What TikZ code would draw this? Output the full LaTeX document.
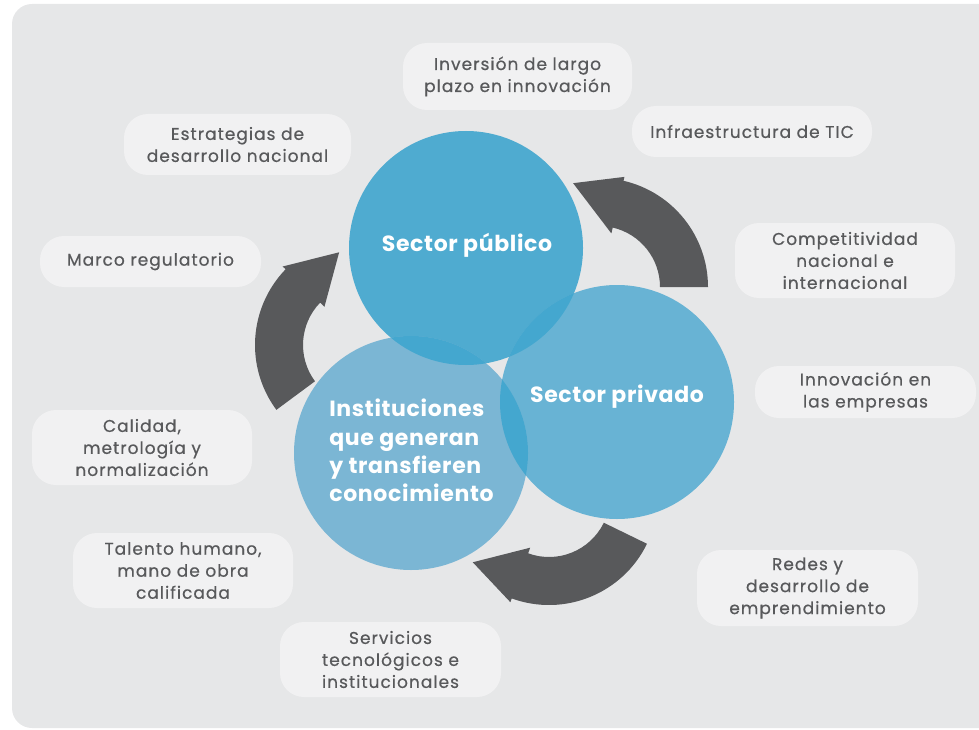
\documentclass[tikz,border=0pt]{standalone}
\usepackage{fontspec}
\setmainfont{Poppins}
\newfontfamily\lblfont{Poppins}[LetterSpace=6,FakeBold=0.6]
\newfontfamily\circfont{Poppins}[LetterSpace=3]
\usetikzlibrary{calc}
\definecolor{fondo}{HTML}{E6E7E8}
\definecolor{cajagris}{HTML}{F1F1F2}
\definecolor{texto}{HTML}{58595B}
\definecolor{flechagris}{HTML}{58595B}
\definecolor{cpub}{HTML}{4FABD0}
\definecolor{cpriv}{HTML}{68B3D4}
\definecolor{cinst}{HTML}{7BB6D4}
\definecolor{cinter}{HTML}{44A7CF}
\tikzset{
 caja/.style={fill=cajagris,rounded corners=24pt,align=center,text=texto,inner sep=0pt,
  minimum width=221pt,minimum height=75pt,font=\lblfont\fontsize{17}{22}\selectfont},
 circ/.style={circle,minimum size=234pt,inner sep=0pt},
 ctext/.style={text=white,align=left,font=\circfont\fontsize{22}{28.3}\selectfont\bfseries},
}
\begin{document}
\begin{tikzpicture}[x=1pt,y=-1pt]
\useasboundingbox (0,0) rectangle (979,730);
\fill[fondo,rounded corners=20pt] (12,4) rectangle (1000,728);
\node[caja,minimum width=229pt,minimum height=67pt] (inv) at (517.5,76.5) {Inversión de largo\\plazo en innovación};
\node[caja,minimum width=240pt,minimum height=51pt] (tic) at (752,131.5) {Infraestructura de TIC};
\node[caja,minimum width=227pt,minimum height=61pt] (est) at (237.5,144.5) {Estrategias de\\desarrollo nacional};
\node[caja,minimum height=51pt] (mar) at (150.5,261.5) {Marco regulatorio};
\node[caja,minimum width=220pt] (com) at (845,260.5) {Competitividad\\nacional e\\internacional};
\node[caja,minimum height=52pt] (inn) at (865.5,392) {Innovación en\\las empresas};
\node[caja,minimum width=220pt] (cal) at (142,447.5) {Calidad,\\metrología y\\normalización};
\node[caja,minimum width=220pt] (tal) at (183,570.5) {Talento humano,\\mano de obra\\calificada};
\node[caja,minimum height=76pt] (red) at (807.5,588) {Redes y\\desarrollo de\\emprendimiento};
\node[caja] (ser) at (390.5,659.5) {Servicios\\tecnológicos e\\institucionales};
\foreach \cx/\cy/\aa/\ab/\at/\rt in {599/287/0/-77/-104/107,364/345/143.5/224/255/96,549/496/26/110/139/101}{
 \coordinate (c) at (\cx,\cy);
 \fill[flechagris] ($(c)+(\aa:109)$) arc[start angle=\aa,end angle=\ab,radius=109]
  --($(c)+(\ab:113)$)--($(c)+(\at:\rt)$)--($(c)+(\ab:55)$)--($(c)+(\ab:61)$)
  arc[start angle=\ab,end angle=\aa,radius=61]--cycle;
}
\node[circ,fill=cpub] (pub) at (466,248) {};
\node[circ,fill=cpriv] (priv) at (617,402) {};
\node[circ,fill=cinst] (inst) at (411,453) {};
\begin{scope}
\clip (pub.center) circle[radius=117];
\fill[cinter] (priv.center) circle[radius=117];
\fill[cinter] (inst.center) circle[radius=117];
\end{scope}
\begin{scope}
\clip (priv.center) circle[radius=117];
\fill[cinter] (inst.center) circle[radius=117];
\end{scope}
\node[ctext] (tpub) at (467,245) {Sector público};
\node[ctext] (tpriv) at (617,397) {Sector privado};
\node[ctext] (tinst) at (411.5,450.5) {Instituciones\\que generan\\y transfieren\\conocimiento};
\end{tikzpicture}
\end{document}
